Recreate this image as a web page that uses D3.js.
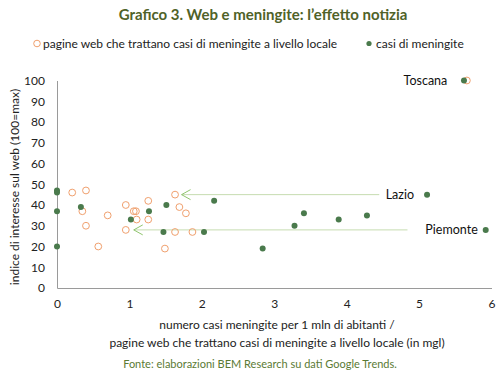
<!DOCTYPE html>
<html>
<head>
<meta charset="utf-8">
<script src="https://cdn.jsdelivr.net/npm/d3@7"></script>
<style>
  body { margin: 0; background: #fff; }
  text { font-family: Lato, "Open Sans", sans-serif; }
</style>
</head>
<body>
<script>
'use strict';

// pagine web che trattano casi di meningite a livello locale (open orange circles)
const webX = [0.21, 0.40, 0.35, 0.40, 0.70, 0.57, 0.95, 1.06, 1.09, 1.10, 0.95, 1.26, 1.26, 1.63, 1.69, 1.78, 1.63, 1.87, 1.49, 5.66];
const webY = [46, 47, 37, 30, 35, 20, 40, 37, 37, 33, 28, 42, 33, 45, 39, 36, 27, 27, 19, 100];

// casi di meningite (filled green dots)
const casiX = [0, 0, 0, 0, 0.33, 1.02, 1.27, 1.51, 1.47, 2.03, 2.17, 5.62, 5.11, 3.41, 3.28, 3.89, 4.28, 2.84, 5.92];
const casiY = [47, 46, 37, 20, 39, 33, 37, 40, 27, 27, 42, 100, 45, 36, 30, 33, 35, 19, 28];

// region labels (text end x, y in data units)
const regionNames = ["Toscana", "Lazio", "Piemonte"];
const regionX = [5.39, 4.93, 5.81];
const regionY = [100, 45, 28];

// arrows: from -> to (data units)
const arrowFromX = [4.45, 4.84];
const arrowToX = [1.72, 1.06];
const arrowY = [45, 28];

const xTicks = [0, 1, 2, 3, 4, 5, 6];
const yTicks = [0, 10, 20, 30, 40, 50, 60, 70, 80, 90, 100];

const width = 500, height = 377;
const svg = d3.select('body').append('svg')
  .attr('width', width)
  .attr('height', height);

const x = d3.scaleLinear().domain([0, 6]).range([57, 491.5]);
const y = d3.scaleLinear().domain([0, 100]).range([288, 80.5]);

// title
svg.append('text')
  .attr('x', 263)
  .attr('y', 20)
  .attr('text-anchor', 'middle')
  .style('font-size', '15px')
  .style('font-weight', 'bold')
  .attr('fill', '#4f6228')
  .text('Grafico 3. Web e meningite: l\u2019effetto notizia');

// legend
svg.append('circle')
  .attr('cx', 37).attr('cy', 43.5).attr('r', 3.3)
  .attr('fill', 'none').attr('stroke', '#f0a06e').attr('stroke-width', 1);
svg.append('text')
  .attr('x', 43).attr('y', 47.5)
  .style('font-size', '12px').attr('fill', '#222')
  .text('pagine web che trattano casi di meningite a livello locale');
svg.append('circle')
  .attr('cx', 369).attr('cy', 43.5).attr('r', 2.6)
  .attr('fill', '#4a7a4c');
svg.append('text')
  .attr('x', 376).attr('y', 47.5)
  .style('font-size', '12px').attr('fill', '#222')
  .text('casi di meningite');

// axes
const xAxis = svg.append('g')
  .attr('transform', 'translate(0,' + y(0) + ')')
  .call(d3.axisBottom(x).tickValues(xTicks).tickSize(0).tickPadding(11).tickFormat(d3.format('d')));
const yAxis = svg.append('g')
  .attr('transform', 'translate(' + x(0) + ',0)')
  .call(d3.axisLeft(y).tickValues(yTicks).tickSize(0).tickPadding(12).tickFormat(d3.format('d')));

[xAxis, yAxis].forEach(function(g) {
  g.select('.domain').attr('stroke', '#9a9a9a').attr('stroke-width', 1);
  g.selectAll('text')
    .style('font-family', 'Lato, "Open Sans", sans-serif')
    .style('font-size', '12px')
    .attr('fill', '#222');
});

// axis titles
svg.append('text')
  .attr('x', 277).attr('y', 329)
  .attr('text-anchor', 'middle')
  .style('font-size', '12px').attr('fill', '#222')
  .text('numero casi meningite per 1 mln di abitanti /');
svg.append('text')
  .attr('x', 277).attr('y', 347)
  .attr('text-anchor', 'middle')
  .style('font-size', '12px').attr('fill', '#222')
  .text('pagine web che trattano casi di meningite a livello locale (in mgl)');
svg.append('text')
  .attr('transform', 'translate(19,187)rotate(-90)')
  .attr('text-anchor', 'middle')
  .style('font-size', '12px').attr('fill', '#222')
  .text('indice di interesse sul web (100=max)');

// source
svg.append('text')
  .attr('x', 260).attr('y', 368)
  .attr('text-anchor', 'middle')
  .style('font-size', '11px').attr('fill', '#5a7a34')
  .text('Fonte: elaborazioni BEM Research su dati Google Trends.');

// arrow marker (open chevron, tip at line end)
svg.append('defs').append('marker')
  .attr('id', 'chev')
  .attr('viewBox', '-11 -6 12 12')
  .attr('refX', 0).attr('refY', 0)
  .attr('markerWidth', 12).attr('markerHeight', 12)
  .attr('markerUnits', 'userSpaceOnUse')
  .attr('orient', 'auto')
  .append('path')
  .attr('d', 'M-9,-5 L0,0 L-9,5')
  .attr('fill', 'none')
  .attr('stroke', '#8fc46e')
  .attr('stroke-width', 1);

svg.selectAll('.arrow')
  .data(arrowY)
  .enter()
  .append('line')
  .attr('class', 'arrow')
  .attr('x1', (d, i) => x(arrowFromX[i]))
  .attr('x2', (d, i) => x(arrowToX[i]))
  .attr('y1', (d) => y(d))
  .attr('y2', (d) => y(d))
  .attr('stroke', '#c6dcb0')
  .attr('stroke-width', 1)
  .attr('marker-end', 'url(#chev)');

// orange open circles
svg.selectAll('.web')
  .data(webX)
  .enter()
  .append('circle')
  .attr('class', 'web')
  .attr('cx', (d) => x(d))
  .attr('cy', (d, i) => y(webY[i]))
  .attr('r', 3.4)
  .attr('fill', 'none')
  .attr('stroke', '#f0a06e')
  .attr('stroke-width', 1);

// green dots
svg.selectAll('.casi')
  .data(casiX)
  .enter()
  .append('circle')
  .attr('class', 'casi')
  .attr('cx', (d) => x(d))
  .attr('cy', (d, i) => y(casiY[i]))
  .attr('r', 3)
  .attr('fill', '#4a7a4c');

// region labels
svg.selectAll('.region')
  .data(regionNames)
  .enter()
  .append('text')
  .attr('class', 'region')
  .attr('x', (d, i) => x(regionX[i]))
  .attr('y', (d, i) => y(regionY[i]) + 4.5)
  .attr('text-anchor', 'end')
  .style('font-size', '12.5px')
  .attr('fill', '#111')
  .text((d) => d);
</script>
</body>
</html>
